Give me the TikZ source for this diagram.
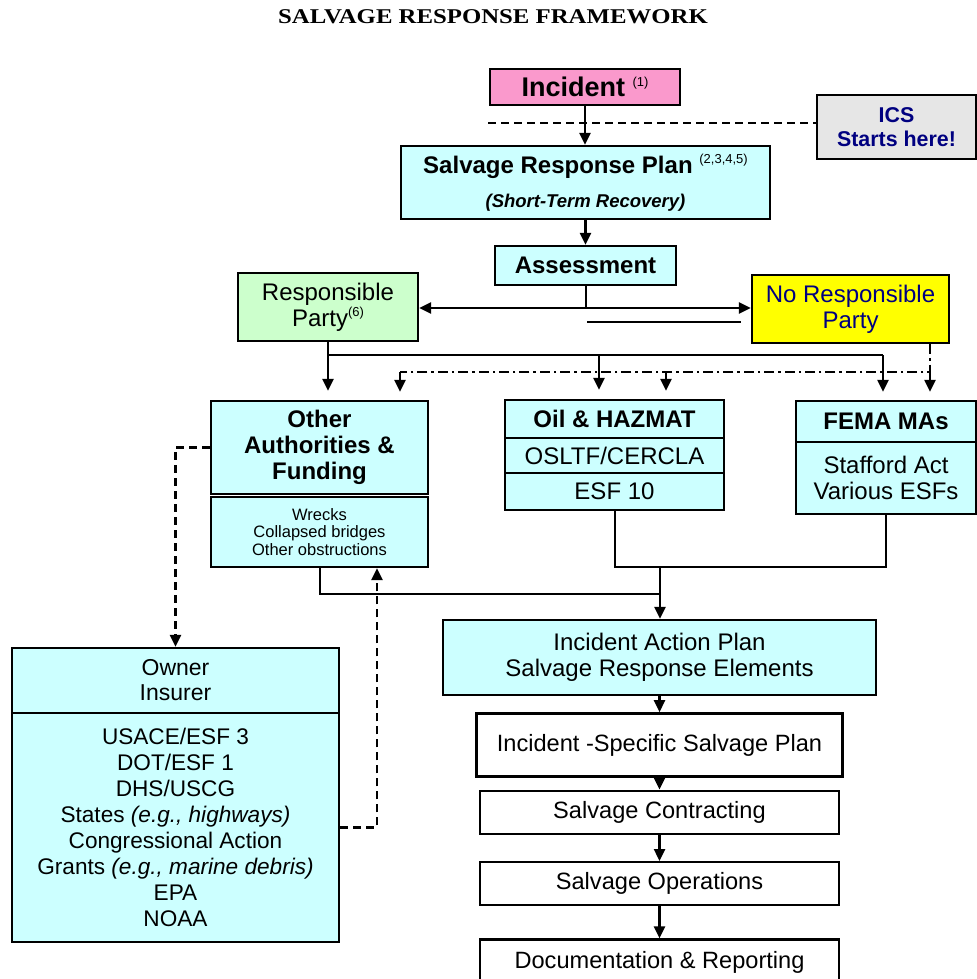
\documentclass[tikz,border=0pt]{standalone}
\usepackage{fontspec}
\setmainfont{Liberation Sans}
\newfontfamily\titlefont{Liberation Serif}
\usepackage{tikz}
\usetikzlibrary{arrows.meta, positioning}
\definecolor{boxcyan}{RGB}{204,255,255}
\definecolor{incpink}{RGB}{250,153,204}
\definecolor{rpgreen}{RGB}{204,255,204}
\definecolor{nrpyellow}{RGB}{255,255,0}
\definecolor{icsgray}{RGB}{230,230,230}
\definecolor{icsblue}{RGB}{0,0,128}
\newcommand{\fnref}[1]{\raisebox{0.75ex}{\fontsize{6.5}{7}\selectfont\mdseries\upshape #1}}
\tikzstyle{cyanbox} = [rectangle, draw=black, line width=1.2pt, fill=boxcyan, align=center, inner sep=0pt, font=\fontsize{12}{13}\selectfont]
\tikzstyle{boldbox} = [cyanbox, font=\fontsize{12}{13}\selectfont\bfseries]
\tikzstyle{plainbox} = [rectangle, draw=black, line width=1.2pt, fill=white, align=center, inner sep=0pt, font=\fontsize{11.8}{13}\selectfont]
\tikzstyle{arrow} = [line width=1.2pt, -{Triangle[length=6pt, width=5.5pt]}]
\tikzstyle{conn} = [line width=1pt]
\tikzstyle{dashconn} = [line width=1.2pt, dash pattern=on 4pt off 2.5pt]
\tikzstyle{dasharrow} = [dashconn, -{Triangle[length=6pt, width=5.5pt]}]
\tikzstyle{dotdash} = [line width=1.2pt, dash pattern=on 5pt off 2pt on 1.2pt off 2pt]

\begin{document}
\begin{tikzpicture}[x=0.5pt, y=-0.5pt]
                \useasboundingbox (0,0) rectangle (977,979);
                \node (title) [font=\titlefont\bfseries\fontsize{10.5}{12}\selectfont] at (493,17) {\scalebox{1.18}[1]{SALVAGE RESPONSE FRAMEWORK}};

                \node (incident) [cyanbox, fill=incpink, minimum width=95pt, minimum height=18pt, font=\fontsize{13.5}{15}\selectfont\bfseries] at (585,87) {Incident \fnref{(1)}};
                \node (ics) [cyanbox, fill=icsgray, text=icsblue, minimum width=79.5pt, minimum height=32pt, font=\fontsize{10.7}{12}\selectfont\bfseries] at (896.5,127) {ICS\\Starts here!};
                \node (srp) [cyanbox, minimum width=184.5pt, minimum height=36.5pt] at (585.5,182.5) {{\bfseries Salvage Response Plan \fnref{(2,3,4,5)}}\\[4pt]{\fontsize{9.25}{11}\selectfont\bfseries\itshape (Short-Term Recovery)}};
                \node (assess) [boldbox, minimum width=90.5pt, minimum height=19.5pt] at (585.5,265.5) {Assessment};
                \node (rp) [cyanbox, fill=rpgreen, minimum width=90pt, minimum height=34pt] at (328,307) {Responsible\\Party\fnref{(6)}};
                \node (nrp) [cyanbox, fill=nrpyellow, text=icsblue, minimum width=98.5pt, minimum height=34pt] at (850.5,309) {No Responsible\\Party};

                \node (other) [boldbox, minimum width=108.5pt, minimum height=46.5pt] at (319.5,447.5) {Other\\Authorities \&\\Funding};
                \node (wrecks) [cyanbox, minimum width=108.5pt, minimum height=35pt, font=\fontsize{8.25}{8.8}\selectfont] at (319.5,532) {Wrecks\\Collapsed bridges\\Other obstructions};
                \node (oilhead) [boldbox, minimum width=109.5pt, minimum height=19pt] at (614.5,419) {Oil \& HAZMAT};
                \node (oilfund) [cyanbox, minimum width=109.5pt, minimum height=17.5pt] at (614.5,455.5) {OSLTF/CERCLA};
                \node (oilesf) [cyanbox, minimum width=109.5pt, minimum height=18.5pt] at (614.5,491.5) {ESF 10};
                \node (femahead) [boldbox, minimum width=90pt, minimum height=20.5pt] at (886,421.5) {FEMA MAs};
                \node (femabody) [cyanbox, minimum width=90pt, minimum height=36pt] at (886,478) {Stafford Act\\Various ESFs};

                \node (ownerhead) [cyanbox, minimum width=163.5pt, minimum height=32.5pt, font=\fontsize{11.5}{12.5}\selectfont] at (175.5,680.5) {Owner\\Insurer};
                \node (ownerbody) [cyanbox, minimum width=163.5pt, minimum height=114.5pt, font=\fontsize{11.3}{13}\selectfont] at (175.5,827.5) {USACE/ESF 3\\DOT/ESF 1\\DHS/USCG\\States \textit{(e.g., highways)}\\Congressional Action\\Grants \textit{(e.g., marine debris)}\\EPA\\NOAA};

                \node (iap) [cyanbox, minimum width=216.5pt, minimum height=37.5pt] at (659.5,657.5) {Incident Action Plan\\Salvage Response Elements};
                \node (isp) [plainbox, below=8pt of iap, minimum width=183pt, minimum height=31.5pt] {Incident -Specific Salvage Plan};
                \node (contract) [plainbox, below=6pt of isp, minimum width=179.5pt, minimum height=21.5pt] {Salvage Contracting};
                \node (ops) [plainbox, below=13pt of contract, minimum width=179.5pt, minimum height=21.5pt] {Salvage Operations};
                \node (doc) [plainbox, below=16pt of ops, minimum width=179.5pt, minimum height=23pt] {Documentation \& Reporting};

                % ICS line
                \coordinate (icsdash) at (488,123);
                \draw [dashconn] (icsdash) -- (icsdash -| ics.west);

                \draw [arrow] (incident.south) -- (incident.south |- srp.north);
                \draw [arrow] (srp.south) -- (srp.south |- assess.north);

                \coordinate (split) at (585.5,308);
                \draw [conn] (assess.south) -- (split);
                \draw [arrow] (split) -- (split -| rp.east);
                \draw [arrow] (split) -- (split -| nrp.west);
                \coordinate (bar1) at (587,322);
                \coordinate (bar2) at (741,322);
                \draw [line width=0.8pt] (bar1) -- (bar2);

                % responsible party
                \coordinate (bus) at (328,355);
                \coordinate (busoil) at (599,355);
                \coordinate (busfema) at (883,355);
                \draw [conn] (rp.south) -- (bus) -- (busfema);
                \draw [arrow, shorten >=4.5pt] (bus) -- (bus |- other.north);
                \draw [arrow, shorten >=4.5pt] (busoil) -- (busoil |- oilhead.north);
                \draw [arrow, shorten >=4pt] (busfema) -- (busfema |- femahead.north);

                % no responsible party
                \coordinate (ddright) at (930,372);
                \coordinate (ddleft) at (400,372);
                \coordinate (ddoil) at (666,372);
                \draw [dotdash] (nrp.south -| ddright) -- (ddright) -- (ddleft);
                \draw [dasharrow, shorten >=4pt] (ddleft) -- (ddleft |- other.north);
                \draw [dasharrow, shorten >=4pt] (ddoil) -- (ddoil |- oilhead.north);
                \draw [dasharrow, shorten >=4pt] (ddright) -- (ddright |- femahead.north);

                \coordinate (join) at (660,567);
                \coordinate (join2) at (660,594);
                \draw [conn] (oilesf.south) |- (join);
                \draw [conn] (femabody.south) |- (join);
                \draw [conn] (wrecks.south) |- (join2);
                \draw [arrow] (join) -- (join |- iap.north);

                \draw [dasharrow] (other.west) -| (ownerhead.north);
                \draw [dasharrow] (ownerbody.east) -| ([xshift=28.75pt]wrecks.south);

                \draw [arrow] (iap) -- (isp);
                \draw [arrow] (isp) -- (contract);
                \draw [arrow] (contract) -- (ops);
                \draw [arrow] (ops) -- (doc);
            \end{tikzpicture}
\end{document}
